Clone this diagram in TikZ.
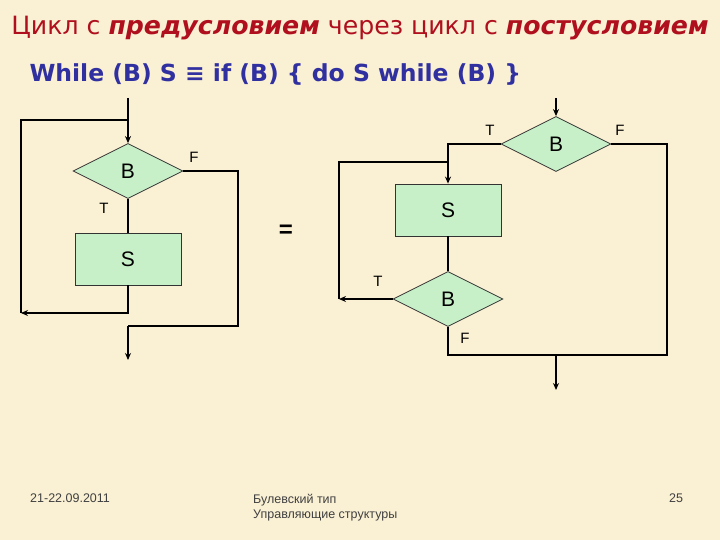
\documentclass[tikz,border=0pt]{standalone}
\usepackage{fontspec}
\setmainfont{Liberation Sans}
\newfontfamily\titrefont{DejaVu Sans}
\usepackage{tikz}
\usetikzlibrary{arrows.meta, positioning, shapes.geometric, calc}

\definecolor{fond}{HTML}{FAF0D4}
\definecolor{vert}{HTML}{C8F0C8}
\definecolor{rouge}{HTML}{B0101E}
\definecolor{bleu}{HTML}{3030A0}
\definecolor{gris}{HTML}{404040}

\begin{document}
\begin{tikzpicture}[
  x=1pt, y=-1pt,
  font=\fontsize{21}{24}\selectfont,
  bloc/.style={
    draw=black!80,
    line width=0.8pt,
    fill=vert,
    minimum width=106pt,
    minimum height=52pt,
    inner sep=0pt
  },
  test/.style={
    diamond,
    draw=black!80,
    line width=0.8pt,
    fill=vert,
    minimum width=110pt,
    minimum height=55pt,
    inner sep=0pt
  },
  ligne/.style={
    line width=2pt,
    draw=black
  },
  fleche/.style={
    ligne,
    -{Stealth[length=7pt, width=6pt]}
  },
  etiq/.style={
    font=\fontsize{15}{17}\selectfont
  },
  pied/.style={
    font=\fontsize{12.5}{15}\selectfont,
    text=gris,
    align=left,
    anchor=north west,
    inner sep=0pt
  }
]
  \useasboundingbox (0,0) rectangle (720,540);
  \fill[fond] (0,0) rectangle (720,540);

  % Titres
  \node[text=rouge, font=\titrefont\fontsize{25.2}{30}\selectfont] (titre) at (360,28)
    {Цикл с \textbf{\textit{предусловием}} через цикл с \textbf{\textit{постусловием}}};
  \node[text=bleu, font=\titrefont\bfseries\fontsize{23.5}{26}\selectfont, anchor=west] (formule) at (26,74)
    {While (B) S ≡ if (B) \{ do S while (B) \}};

  % Boucle avec précondition
  \node[test] (bL) at (128,171) {B};
  \node[bloc] (sL) at (128,259) {S};
  \coordinate (inL) at (128,98);
  \coordinate (jL) at (128,120);
  \coordinate (cL) at (21,313);
  \coordinate (fL) at (238,326);
  \coordinate (outL) at (128,360);
  \node[etiq] (tL) at (104,208) {T};
  \node[etiq] (fLlab) at (194,157) {F};

  \draw[fleche] (inL) -- (bL.north);
  \draw[ligne] (bL.south) -- (sL.north);
  \draw[fleche] (sL.south) |- (cL);
  \draw[ligne] (cL) |- (jL);
  \draw[ligne] (bL.east) -| (fL) -- (fL -| outL);
  \draw[fleche] (fL -| outL) -- (outL);

  \node[font=\bfseries\fontsize{24}{26}\selectfont] (egal) at (286,231) {=};

  % Boucle avec postcondition
  \node[test] (bR1) at (556,144) {B};
  \node[bloc] (sR) at (448,210) {S};
  \node[test] (bR2) at (448,299) {B};
  \coordinate (inR) at (556,98);
  \coordinate (jR) at (448,162);
  \coordinate (cR) at (339,299);
  \coordinate (fR) at (667,355);
  \coordinate (outR) at (556,390);
  \node[etiq] (tR1) at (490,130) {T};
  \node[etiq] (fR1) at (620,130) {F};
  \node[etiq] (tR2) at (378,281) {T};
  \node[etiq] (fR2) at (465,338) {F};

  \draw[fleche] (inR) -- (bR1.north);
  \draw[fleche] (bR1.west) -| (sR.north);
  \draw[ligne] (sR.south) -- (bR2.north);
  \draw[fleche] (bR2.west) -- (cR);
  \draw[ligne] (cR) |- (jR);
  \draw[ligne] (bR1.east) -| (fR) -- (fR -| bR2.south) -- (bR2.south);
  \draw[fleche] (fR -| outR) -- (outR);

  % Pied de page
  \node[pied] (date) at (30,494) {21-22.09.2011};
  \node[pied] (sujet) at (253,494) {Булевский тип\\Управляющие структуры};
  \node[pied] (page) at (669,494) {25};
\end{tikzpicture}
\end{document}
